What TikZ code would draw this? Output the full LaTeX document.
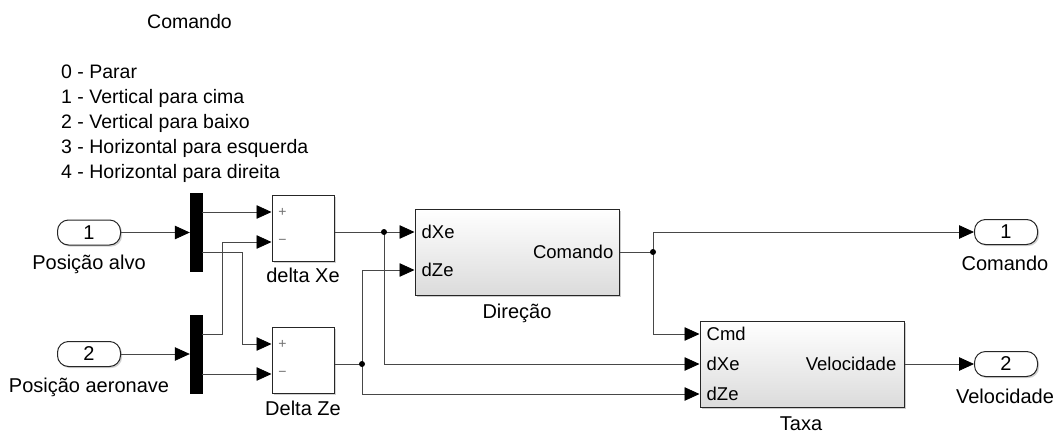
\documentclass[tikz,border=0pt]{standalone}
\usepackage{fontspec}
\setmainfont{Liberation Sans}
\usetikzlibrary{arrows.meta,shadows,calc}
\definecolor{wirecol}{RGB}{72,72,72}
\definecolor{edgecol}{RGB}{38,38,38}
\begin{document}
\begin{tikzpicture}[x=1pt,y=-1pt,
  note/.style={font=\fontsize{19.5}{24}\selectfont, inner sep=0pt},
  lbl/.style={font=\fontsize{20}{24}\selectfont, inner sep=0pt},
  portlbl/.style={font=\fontsize{18.5}{22}\selectfont, inner sep=0pt},
  wire/.style={draw=wirecol, line width=0.8pt, -{Triangle[length=15pt,width=13.5pt,color=black]}},
  plainwire/.style={draw=wirecol, line width=0.8pt},
  shade1/.style={drop shadow={shadow xshift=1.6pt, shadow yshift=-1.6pt, opacity=0.35}},
  port/.style={draw=edgecol, line width=1pt, fill=white, rounded corners=11pt,
    minimum width=63pt, minimum height=25pt, inner sep=0pt,
    font=\fontsize{20}{24}\selectfont, shade1},
  muxbar/.style={fill=black, draw=black, minimum width=12pt, minimum height=78pt, inner sep=0pt},
  sumblk/.style={draw=edgecol, line width=1pt, fill=white, minimum width=62pt,
    minimum height=66pt, inner sep=0pt, shade1},
  subsys/.style={draw=edgecol, line width=1pt, top color=white, bottom color=black!14,
    minimum width=204pt, minimum height=86pt, inner sep=0pt,
    drop shadow={shadow xshift=2.2pt, shadow yshift=-2.2pt, opacity=0.4}},
  dot/.style={circle, fill=black, inner sep=0pt, minimum size=6pt},
  sign/.style={font=\fontsize{14}{14}\selectfont, text=black!55, inner sep=0pt}
]
% canvas
\fill[white] (0,0) rectangle (1062,434);
\useasboundingbox (0,0) rectangle (1062,434);

% annotation
\node[note, anchor=base] (annTitle) at (189.5,28) {Comando};
\node[note, anchor=base west] (ann0) at (61,78) {0 - Parar};
\node[note, anchor=base west] (ann1) at (61,103) {1 - Vertical para cima};
\node[note, anchor=base west] (ann2) at (61,128) {2 - Vertical para baixo};
\node[note, anchor=base west] (ann3) at (61,153) {3 - Horizontal para esquerda};
\node[note, anchor=base west] (ann4) at (61,178) {4 - Horizontal para direita};

% inports
\node[port] (in1) at (89,232.5) {1};
\node[lbl, anchor=base] (in1lbl) at (89,269) {Posição alvo};
\node[port] (in2) at (89,354) {2};
\node[lbl, anchor=base] (in2lbl) at (89,392) {Posição aeronave};

% muxes
\node[muxbar] (mux1) at (196,232) {};
\node[muxbar] (mux2) at (196,354) {};

% sum blocks
\node[sumblk] (sum1) at (303,228) {};
\node[sign] (sum1p) at ($(sum1.west |- 0,212)+(11,0)$) {+};
\node[sign] (sum1m) at ($(sum1.west |- 0,242)+(11,0)$) {−};
\node[lbl, anchor=base] (sum1lbl) at (303,282) {delta Xe};
\node[sumblk] (sum2) at (303,360) {};
\node[sign] (sum2p) at ($(sum2.west |- 0,344)+(11,0)$) {+};
\node[sign] (sum2m) at ($(sum2.west |- 0,374)+(11,0)$) {−};
\node[lbl, anchor=base] (sum2lbl) at (303,415) {Delta Ze};

% subsystems
\node[subsys] (dir) at (517,252) {};
\node[portlbl, anchor=west] (dirA) at ($(dir.west |- 0,232)+(7,0)$) {dXe};
\node[portlbl, anchor=west] (dirB) at ($(dir.west |- 0,270)+(7,0)$) {dZe};
\node[portlbl, anchor=east] (dirO) at ($(dir.east)+(-6,0)$) {Comando};
\node[lbl, anchor=base] (dirlbl) at (517,318) {Direção};

\node[subsys] (taxa) at (802,364) {};
\node[portlbl, anchor=west] (taxaA) at ($(taxa.west |- 0,334)+(7,0)$) {Cmd};
\node[portlbl, anchor=west] (taxaB) at ($(taxa.west |- 0,364)+(7,0)$) {dXe};
\node[portlbl, anchor=west] (taxaC) at ($(taxa.west |- 0,394)+(7,0)$) {dZe};
\node[portlbl, anchor=east] (taxaO) at ($(taxa.east)+(-8,0)$) {Velocidade};
\node[lbl, anchor=base] (taxalbl) at (801,430.5) {Taxa};

% outports
\node[port] (out1) at (1006,232) {1};
\node[lbl, anchor=base] (out1lbl) at (1005,270) {Comando};
\node[port] (out2) at (1006,364) {2};
\node[lbl, anchor=base] (out2lbl) at (1005,403) {Velocidade};

% branch points
\coordinate (j1) at (384,232);
\coordinate (j2) at (362,364);
\coordinate (j3) at (653,252);

% signal lines
\draw[wire] (in1.east) -- (mux1.west |- in1.east);
\draw[wire] (in2.east) -- (mux2.west |- in2.east);
\draw[wire] (mux1.east |- 0,212) -- (sum1.west |- 0,212);
\draw[wire] (mux1.east |- 0,252) -- ++(40,0) |- (sum2.west |- 0,344);
\draw[wire] (mux2.east |- 0,334) -- ++(20,0) |- (sum1.west |- 0,242);
\draw[wire] (mux2.east |- 0,374) -- (sum2.west |- 0,374);

\draw[wire] (sum1.east |- j1) -- (dir.west |- j1);
\draw[wire] (j1) |- (taxa.west |- 0,364);
\draw[plainwire] (sum2.east |- j2) -- (j2);
\draw[wire] (j2) |- (dir.west |- 0,270);
\draw[wire] (j2) |- (taxa.west |- 0,394);

\draw[plainwire] (dir.east) -- (j3);
\draw[wire] (j3) |- (out1.west);
\draw[wire] (j3) |- (taxa.west |- 0,334);
\draw[wire] (taxa.east) -- (out2.west);

\node[dot] (j1dot) at (j1) {};
\node[dot] (j2dot) at (j2) {};
\node[dot] (j3dot) at (j3) {};
\end{tikzpicture}
\end{document}
